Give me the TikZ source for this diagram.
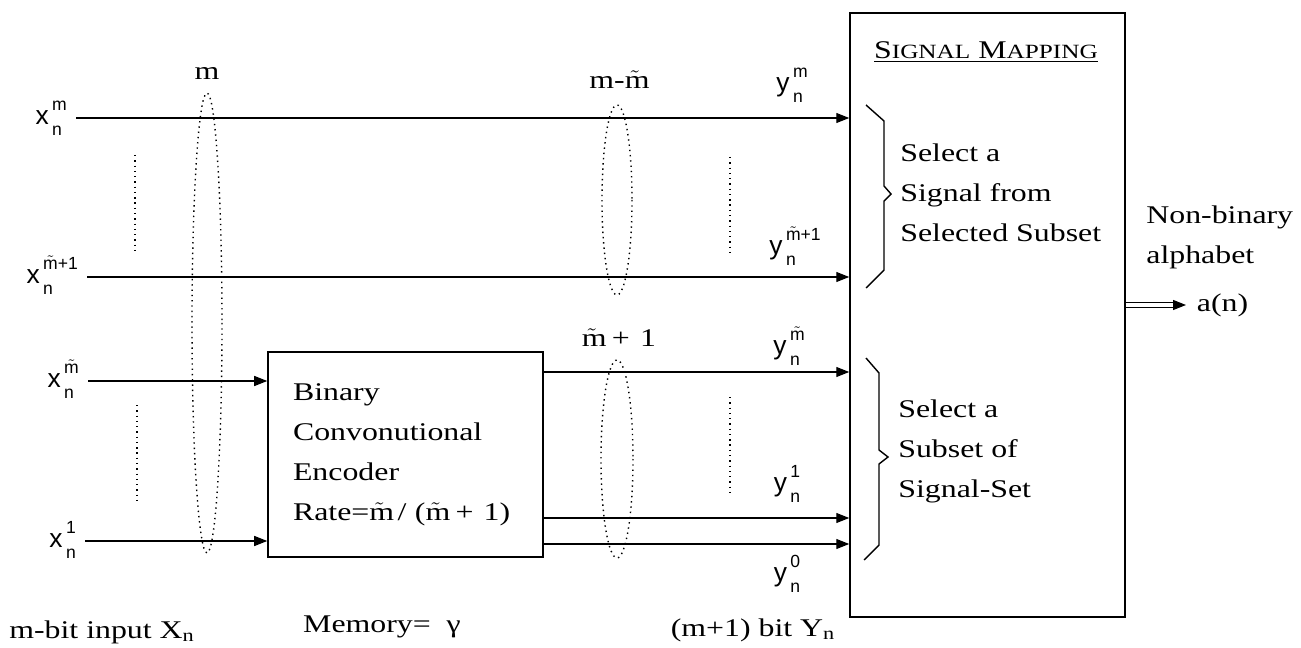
\documentclass[tikz,border=0pt]{standalone}
\usepackage{fontspec}
\setmainfont[FakeStretch=1.25]{Liberation Serif}
\setsansfont{Liberation Sans}
\usetikzlibrary{arrows.meta, positioning}

\newcommand{\sv}[3]{{\sffamily #1\hspace{2pt}\raisebox{-6.5pt}{\fontsize{10}{14.5}\selectfont\begin{tabular}[b]{@{}l@{}}#2\\#3\end{tabular}}}}
\newcommand{\mt}{\ensuremath{\tilde{\mathrm{m}}}}
\newcommand{\smt}{\ensuremath{\tilde{\mathsf{m}}}}
\newcommand{\fsc}[2]{#1{\fontsize{11.5}{12}\selectfont #2}}
\newcommand{\mtp}{\mt\hspace{0.4em}+\hspace{0.4em}1}

\begin{document}
\begin{tikzpicture}[
    x=0.02cm, y=-0.02cm,
    arr/.style={-{Triangle[length=2.6mm, width=2mm]}, line width=0.8pt},
    box/.style={rectangle, draw, line width=0.9pt, inner sep=0pt},
    txt/.style={font=\fontsize{14.5}{22.8}\selectfont, inner sep=0pt},
    vlab/.style={font=\fontsize{15}{18}\selectfont, inner ysep=0pt, inner xsep=5pt},
    dotline/.style={dash pattern=on 0.8pt off 2.2pt, line width=0.8pt},
]
\useasboundingbox (0,0) rectangle (1301,648);

% Blocks
\node[box, minimum width=5.5cm, minimum height=12.08cm] (map) at (987.5,315) {};
\node[box, txt, minimum width=5.5cm, minimum height=4.1cm, text width=4.5cm, inner xsep=0.5cm, align=left] (enc) at (405.5,454.5)
    {Binary\\Convonutional\\Encoder\\Rate=\mt\ / (\mtp)};

% Inputs
\node[vlab, anchor=east] (xm) at (76,118) {\sv{x}{m}{n}};
\node[vlab, anchor=east] (xm1) at (87,277) {\sv{x}{\smt+1}{n}};
\node[vlab, anchor=east] (xmt) at (88,381) {\sv{x}{\smt}{n}};
\node[vlab, anchor=east] (x1) at (85,541) {\sv{x}{1}{n}};

\draw[arr] (xm) -- (xm -| map.west);
\draw[arr] (xm1) -- (xm1 -| map.west);
\draw[arr] (xmt) -- (xmt -| enc.west);
\draw[arr] (x1) -- (x1 -| enc.west);

% Encoder outputs
\coordinate (o3) at (543,372);
\coordinate (o2) at (543,518);
\coordinate (o1) at (543,544);
\draw[arr] (o3) -- (o3 -| map.west);
\draw[arr] (o2) -- (o2 -| map.west);
\draw[arr] (o1) -- (o1 -| map.west);

\node[vlab] (ym) at (792,85) {\sv{y}{m}{n}};
\node[vlab] (ym1) at (795,248) {\sv{y}{\smt+1}{n}};
\node[vlab] (ymt) at (789,348) {\sv{y}{\smt}{n}};
\node[vlab] (y1) at (787,485) {\sv{y}{1}{n}};
\node[vlab] (y0) at (787,575) {\sv{y}{0}{n}};

% Groups
\node[txt] (gm) at (207,74) {m};
\node[txt] (gmm) at (617,80) {m-\mt};
\node[txt] (gm1) at (619,338) {\mtp};

\draw[dotline] (207,323) ellipse (15 and 230);
\draw[dotline] (617,200) ellipse (15 and 95);
\draw[dotline] (617,459) ellipse (16 and 99);

\draw[dotline] (135,155) -- (135,250);
\draw[dotline] (137,405) -- (137,503);
\draw[dotline] (730,157) -- (730,253);
\draw[dotline] (730,397) -- (730,493);

% Signal mapping
\node[txt] (title) at (986,52) {\underline{\fsc{S}{IGNAL} \fsc{M}{APPING}}};

\draw[line width=0.8pt] (866,105) -- (884,121) -- (884,186) -- (891,194) -- (884,201) -- (884,270) -- (866,288);
\draw[line width=0.8pt] (866,358) -- (879,373) -- (879,450) -- (888,457) -- (879,464) -- (879,545) -- (864,560);

\node[txt, anchor=west, align=left] (sig) at (900,193) {Select a\\Signal from\\Selected Subset};
\node[txt, anchor=west, align=left] (sub) at (898,451) {Select a\\Subset of\\Signal-Set};

% Output
\node[txt, anchor=west, align=left] (nb) at (1146,237) {Non-binary\\alphabet};
\node[txt, anchor=west, inner xsep=6pt] (an) at (1186,305) {a(n)};
\draw[double, double distance=2pt, line width=0.6pt, -{Triangle[length=2.6mm, width=2mm]}] (map.east |- an) -- (an.west);

% Word sizes
\node[txt] (inp) at (102,632) {m-bit input X\textsubscript{n}};
\node[txt] (mem) at (382,627) {Memory=~ γ};
\node[txt] (yout) at (753,630) {(m+1) bit Y\textsubscript{n}};

\end{tikzpicture}
\end{document}
